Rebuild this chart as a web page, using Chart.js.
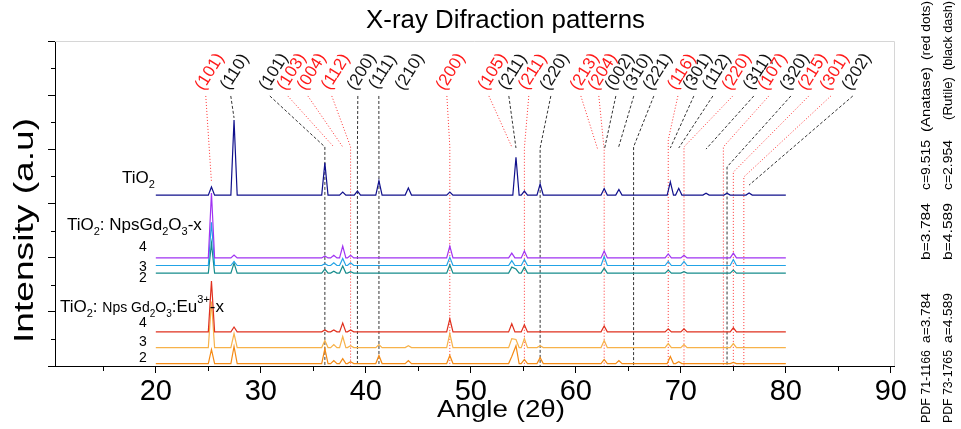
<!DOCTYPE html>
<html>
<head>
<meta charset="utf-8">
<script src="https://cdn.jsdelivr.net/npm/chart.js@4.4.1/dist/chart.umd.min.js"></script>
<style>
  html, body { margin: 0; padding: 0; background: #fff; }
  canvas { display: block; }
</style>
</head>
<body>
<canvas id="xrd" width="961" height="429"></canvas>
<script>
// peak positions (2θ) shared by all patterns
const peakAngles = [25.3, 27.45, 36.1, 36.95, 37.8, 38.55, 39.2, 41.25, 44.05, 48.0, 53.9, 54.3,
                    55.1, 56.6, 62.7, 64.1, 68.8, 69.0, 69.8, 70.3, 72.4, 74.4, 75.0, 76.5];

// peak heights above each pattern's own baseline (a.u.)
const tio2 = [0.30, 2.77, 1.19, 0, 0.11, 0, 0.15, 0.53, 0.26, 0.11, 0, 1.40, 0.15, 0.41, 0.24, 0.21, 0, 0.49, 0.25, 0, 0.07, 0.07, 0, 0.08];
const gd4  = [2.40, 0.11, 0.07, 0.10, 0.44, 0.10, 0, 0, 0, 0.44, 0.18, 0, 0.26, 0, 0.26, 0, 0.15, 0, 0, 0.10, 0, 0, 0.18, 0];
const gd3  = [1.60, 0.15, 0.07, 0.10, 0.26, 0.10, 0, 0, 0, 0.30, 0.18, 0, 0.22, 0, 0.33, 0, 0.15, 0, 0, 0.15, 0, 0, 0.22, 0];
const gd2  = [1.10, 0.37, 0.15, 0.07, 0.26, 0.05, 0, 0, 0, 0.30, 0.22, 0.15, 0.22, 0, 0.18, 0, 0.11, 0, 0, 0.05, 0, 0, 0.11, 0];
const eu4  = [1.88, 0.18, 0.07, 0.07, 0.33, 0.07, 0, 0, 0, 0.48, 0.30, 0, 0.26, 0, 0.22, 0, 0.11, 0, 0, 0.11, 0, 0, 0.15, 0];
const eu3  = [1.70, 0.52, 0.26, 0.11, 0.41, 0.07, 0, 0.11, 0.07, 0.52, 0.33, 0.30, 0.33, 0.07, 0.26, 0, 0.15, 0, 0, 0.11, 0, 0, 0.15, 0];
const eu2  = [0.52, 0.63, 0.55, 0.11, 0.18, 0.07, 0, 0.30, 0.11, 0.30, 0.26, 0.66, 0.15, 0.22, 0.15, 0.11, 0, 0.26, 0.07, 0, 0, 0, 0.04, 0];

const patterns = [tio2, gd4, gd3, gd2, eu4, eu3, eu2];
const patternNames = ['TiO2', 'Gd 4', 'Gd 3', 'Gd 2', 'Eu 4', 'Eu 3', 'Eu 2'];
// vertical stacking offset of each pattern
const offsets = [6.31, 3.99, 3.71, 3.43, 1.26, 0.68, 0.09];
const colors = ['#10108c', '#a033f2', '#22a3e6', '#168c8c', '#e0301e', '#f7b24a', '#f58a14'];
const scanStart = 20, scanEnd = 80;
const xTicks = [15, 20, 25, 30, 35, 40, 45, 50, 55, 60, 65, 70, 75, 80, 85, 90];
const yTicks = [0, 1, 2, 3, 4, 5, 6, 7, 8, 9, 10, 11, 12];

// reflection labels: text, phase (A anatase / R rutile), 2θ of reflection
const hklText  = ['(101)', '(110)', '(101)', '(103)', '(004)', '(112)', '(200)', '(111)', '(210)', '(200)',
                  '(105)', '(211)', '(211)', '(220)', '(213)', '(204)', '(002)', '(310)', '(221)', '(116)',
                  '(301)', '(112)', '(220)', '(311)', '(107)', '(320)', '(215)', '(301)', '(202)'];
const hklPhase = ['A', 'R', 'R', 'A', 'A', 'A', 'R', 'R', 'R', 'A',
                  'A', 'R', 'A', 'R', 'A', 'A', 'R', 'R', 'R', 'A',
                  'R', 'R', 'A', 'R', 'A', 'R', 'A', 'A', 'R'];
const hklPeak  = [25.3, 27.45, 36.1, 36.95, 37.8, 38.55, 39.2, 41.25, 44.05, 48.0,
                  53.9, 54.3, 55.1, 56.6, 62.1, 62.7, 62.75, 64.05, 65.5, 68.8,
                  69.0, 69.8, 70.3, 72.4, 74.05, 74.4, 75.0, 76.0, 76.5];

// label layout: where each label sits, where its leader bends, and whether it drops to the axis
const hklLabelAt = [25.14, 27.52, 31.24, 32.95, 34.86, 37.14, 39.62, 41.62, 44.19, 48.10,
                    52.10, 54.00, 55.90, 58.00, 60.86, 62.57, 64.19, 65.90, 67.81, 70.10,
                    71.62, 73.43, 75.33, 77.33, 78.76, 80.86, 82.57, 84.67, 86.76];
const hklBend = [6.79, 9.16, 8.09, 8.09, 8.09, 8.09, 8.09, 8.09, null, 8.09,
                 8.09, 8.05, 8.05, 8.05, 7.98, 7.98, 8.05, 8.05, 8.09, 8.35,
                 8.05, 8.05, 8.09, 8.01, 8.09, 7.35, 7.16, 6.98, 6.68];
const hklDrop = [0, 0, 1, 0, 0, 1, 1, 1, 0, 1,
                 0, 0, 1, 1, 0, 1, 0, 0, 1, 1,
                 0, 0, 1, 0, 1, 1, 1, 1, 0];

const FONT = "'Liberation Sans', Arial, sans-serif";
const peakHalfWidth = 0.3;

// baseline + triangular peaks for one pattern
function patternPoints(heights, offset) {
  const pts = [{ x: scanStart, y: offset, base: true }];
  peakAngles.forEach((a, i) => {
    if (!heights[i]) return;
    pts.push({ x: a - peakHalfWidth, y: offset, base: true });
    pts.push({ x: a, y: offset + heights[i] });
    pts.push({ x: a + peakHalfWidth, y: offset, base: true });
  });
  pts.push({ x: scanEnd, y: offset, base: true });
  pts.sort((p, q) => p.x - q.x);
  return pts.filter(p => !p.base || !peakAngles.some((a, i) =>
    heights[i] && Math.abs(p.x - a) < peakHalfWidth - 1e-6));
}

const datasets = patterns.map((h, i) => ({
  label: patternNames[i],
  data: patternPoints(h, offsets[i]),
  borderColor: colors[i],
  borderWidth: 1.2,
  pointRadius: 0,
  tension: 0,
  fill: false
}));

function stretchText(ctx, text, x, y, width, size, rot, color) {
  ctx.save();
  ctx.translate(x, y);
  ctx.rotate(rot);
  ctx.font = size + 'px ' + FONT;
  ctx.fillStyle = color || '#000';
  ctx.textBaseline = 'alphabetic';
  ctx.textAlign = 'left';
  const w = ctx.measureText(text).width;
  ctx.scale(width / w, 1);
  ctx.fillText(text, 0, 0);
  ctx.restore();
}

// runs of [text, size, baseline shift]
function richText(ctx, x, y, parts) {
  ctx.save();
  ctx.fillStyle = '#000';
  ctx.textBaseline = 'alphabetic';
  ctx.textAlign = 'left';
  parts.forEach(([t, size, dy]) => {
    ctx.font = size + 'px ' + FONT;
    ctx.fillText(t, x, y + (dy || 0));
    x += ctx.measureText(t).width;
  });
  ctx.restore();
}

const annotate = {
  id: 'annotate',
  beforeDatasetsDraw(chart) {
    const { ctx, chartArea, scales: { x, y } } = chart;
    ctx.save();
    ctx.lineWidth = 1;
    hklText.forEach((t, i) => {
      if (hklBend[i] === null) return;
      const sx = x.getPixelForValue(hklLabelAt[i]) - 4;
      const sy = y.getPixelForValue(9.97);
      const px = x.getPixelForValue(hklPeak[i]);
      const by = y.getPixelForValue(hklBend[i]);
      if (hklPhase[i] === 'A') {
        ctx.strokeStyle = 'rgba(255,0,0,0.8)';
        ctx.setLineDash([1, 2]);
      } else {
        ctx.strokeStyle = 'rgba(0,0,0,0.8)';
        ctx.setLineDash([3, 2]);
      }
      ctx.beginPath();
      ctx.moveTo(sx, sy);
      ctx.lineTo(px, by);
      if (hklDrop[i]) ctx.lineTo(px, chartArea.bottom);
      ctx.stroke();
    });
    ctx.restore();

    // light frame on top and right
    ctx.save();
    ctx.strokeStyle = '#d6d6d6';
    ctx.lineWidth = 1;
    ctx.beginPath();
    ctx.moveTo(chartArea.left, chartArea.top + 0.5);
    ctx.lineTo(chartArea.right + 0.5, chartArea.top + 0.5);
    ctx.lineTo(chartArea.right + 0.5, chartArea.bottom);
    ctx.stroke();
    ctx.restore();
  },
  afterDraw(chart) {
    const { ctx, chartArea, scales: { x, y } } = chart;

    // short minor ticks between the labelled ones
    ctx.save();
    ctx.strokeStyle = '#000';
    ctx.lineWidth = 1;
    ctx.beginPath();
    xTicks.filter(v => v % 10).forEach(v => {
      const px = Math.round(x.getPixelForValue(v)) + 0.5;
      ctx.moveTo(px, chartArea.bottom);
      ctx.lineTo(px, chartArea.bottom + 5);
    });
    yTicks.filter(v => v % 2).forEach(v => {
      const py = Math.round(y.getPixelForValue(v)) + 0.5;
      ctx.moveTo(chartArea.left, py);
      ctx.lineTo(chartArea.left - 4, py);
    });
    ctx.stroke();
    ctx.restore();

    // reflection labels
    ctx.save();
    ctx.font = '17px ' + FONT;
    ctx.textAlign = 'center';
    ctx.textBaseline = 'middle';
    hklText.forEach((t, i) => {
      ctx.save();
      ctx.translate(x.getPixelForValue(hklLabelAt[i]), y.getPixelForValue(10.86));
      ctx.rotate(-58 * Math.PI / 180);
      ctx.fillStyle = hklPhase[i] === 'A' ? '#ff1a1a' : '#111';
      ctx.fillText(t, 0, 0);
      ctx.restore();
    });
    ctx.restore();

    // title and axis titles
    stretchText(ctx, 'X-ray Difraction patterns', 366, 28, 279, 25, 0);
    stretchText(ctx, 'Angle (2\u03b8)', 437, 417, 128, 24, 0);
    stretchText(ctx, 'Intensity (a.u)', 33, 343, 225, 27, -Math.PI / 2);

    // pattern captions
    richText(ctx, 122, 183, [['TiO', 17], ['2', 11, 5]]);
    richText(ctx, 67, 230, [['TiO', 17], ['2', 11, 5], [': NpsGd', 17], ['2', 11, 5], ['O', 17], ['3', 11, 5], ['-x', 17]]);
    richText(ctx, 60, 312, [['TiO', 17], ['2', 11, 5], [': ', 17], ['Nps Gd', 14], ['2', 10, 5], ['O', 14], ['3', 10, 5],
                            [':Eu', 17], ['3+', 11, -9], ['-x', 17]]);
    ctx.save();
    ctx.font = '14px ' + FONT;
    ctx.fillStyle = '#000';
    ctx.textAlign = 'center';
    ctx.textBaseline = 'middle';
    [['4', 247], ['3', 267], ['2', 278], ['4', 323], ['3', 342], ['2', 358]].forEach(([t, ty]) => ctx.fillText(t, 143, ty));
    ctx.restore();

    // card data along the right edge
    const cards = [
      [925, [['PDF 71-1166', 423, 350], ['a=3.784', 343, 293], ['b=3.784', 260, 203], ['c=9.515', 190, 140], ['(Anatase)', 132, 67], ['(red dots)', 60, 1]]],
      [947, [['PDF 73-1765', 423, 350], ['a=4.589', 343, 293], ['b=4.589', 260, 203], ['c=2.954', 190, 140], ['(Rutile)', 120, 77], ['(black dash)', 70, 1]]]
    ];
    cards.forEach(([cx, segs]) => segs.forEach(([t, y0, y1]) =>
      stretchText(ctx, t, cx + 5, y0, y0 - y1, 13, -Math.PI / 2)));
  }
};

new Chart(document.getElementById('xrd').getContext('2d'), {
  type: 'line',
  data: { datasets },
  options: {
    responsive: false,
    animation: false,
    devicePixelRatio: 1,
    layout: { padding: { left: 0, right: 67, top: 41, bottom: 0 } },
    plugins: { legend: { display: false }, tooltip: { enabled: false }, title: { display: false } },
    scales: {
      x: {
        type: 'linear',
        min: 10.4,
        max: 90.3,
        afterBuildTicks: s => { s.ticks = xTicks.map(v => ({ value: v })); },
        afterFit: s => { s.height = 63; },
        ticks: {
          autoSkip: false,
          maxRotation: 0,
          padding: 2,
          color: '#000',
          font: { size: 29, family: FONT },
          callback: v => (v % 10 === 0 ? String(v) : '')
        },
        grid: {
          drawOnChartArea: false,
          tickLength: 7,
          color: '#000',
          tickColor: c => (c.tick && c.tick.value % 10 ? 'rgba(0,0,0,0)' : '#000')
        },
        border: { color: '#000', width: 1 }
      },
      y: {
        type: 'linear',
        min: 0,
        max: 12,
        afterBuildTicks: s => { s.ticks = yTicks.map(v => ({ value: v })); },
        afterFit: s => { s.width = 55; },
        ticks: { display: false },
        grid: {
          drawOnChartArea: false,
          tickLength: 7,
          color: '#000',
          tickColor: c => (c.tick && c.tick.value % 2 ? 'rgba(0,0,0,0)' : '#000')
        },
        border: { color: '#000', width: 1 }
      }
    }
  },
  plugins: [annotate]
});
</script>
</body>
</html>
